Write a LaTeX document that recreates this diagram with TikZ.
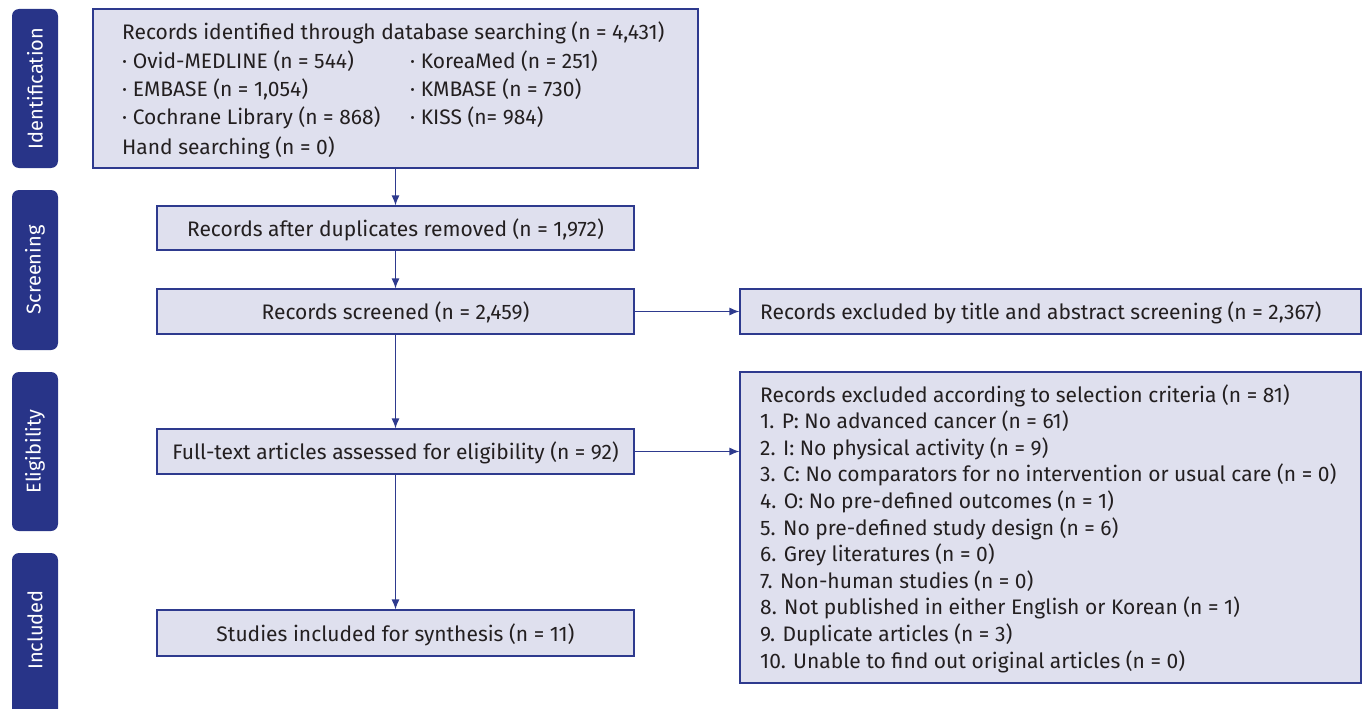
\documentclass[tikz,border=0pt]{standalone}
\usepackage{fontspec}
\setmainfont{Fira Sans}
\usetikzlibrary{arrows.meta}
\definecolor{barblue}{HTML}{283488}
\definecolor{boxfill}{HTML}{DFE0EE}
\definecolor{boxline}{HTML}{2E3A8E}
\definecolor{txtgray}{HTML}{231F20}
\tikzset{
  box/.style={draw=boxline, fill=boxfill, line width=1.2pt, inner sep=0pt},
  txt/.style={inner sep=0pt, text=txtgray, font=\fontsize{21}{25}\selectfont, text height=20pt, text depth=4pt},
  bar/.style={fill=barblue, rounded corners=7pt, inner sep=0pt},
  barlabel/.style={text=white, rotate=90, inner sep=0pt, font=\fontsize{20}{24}\selectfont},
  arr/.style={draw=boxline, line width=1.2pt, -{Latex[length=10pt,width=8pt]}}
}
\begin{document}
\begin{tikzpicture}[x=1pt, y=-1pt]
  \clip (0,0) rectangle (1362,709);
  \useasboundingbox (0,0) rectangle (1362,709);

  % stage bars
  \node[bar, minimum width=46, minimum height=159] (barid) at (35,88.5) {};
  \node[barlabel] (labid) at (barid) {Identification};
  \node[bar, minimum width=46, minimum height=160] (barsc) at (35,270) {};
  \node[barlabel] (labsc) at (barsc) {Screening};
  \node[bar, minimum width=46, minimum height=159] (barel) at (35,451.5) {};
  \node[barlabel] (label) at (barel) {Eligibility};
  \node[bar, minimum width=46, minimum height=166] (barin) at (35,636) {};
  \node[barlabel] (labin) at (35,630) {Included};

  % identification
  \node[box, minimum width=605, minimum height=159] (ident) at (395.5,88.5) {};
  \node[txt, anchor=west] (id0) at (122,32) {Records identified through database searching (n = 4,431)};
  \node[txt, anchor=west] (id1) at (122,60) {· Ovid-MEDLINE (n = 544)};
  \node[txt, anchor=west] (id2) at (122,88) {· EMBASE (n = 1,054)};
  \node[txt, anchor=west] (id3) at (122,116) {· Cochrane Library (n = 868)};
  \node[txt, anchor=west] (id4) at (122,146) {Hand searching (n = 0)};
  \node[txt, anchor=west] (id5) at (410,60) {· KoreaMed (n = 251)};
  \node[txt, anchor=west] (id6) at (410,88) {· KMBASE (n = 730)};
  \node[txt, anchor=west] (id7) at (410,116) {· KISS (n= 984)};

  % main column
  \node[box, minimum width=477, minimum height=44] (dup) at (395.5,228) {};
  \node[txt] (duptxt) at (dup) {Records after duplicates removed (n = 1,972)};
  \node[box, minimum width=477, minimum height=45] (screen) at (395.5,311.5) {};
  \node[txt] (screentxt) at (screen) {Records screened (n = 2,459)};
  \node[box, minimum width=477, minimum height=45] (full) at (395.5,451.5) {};
  \node[txt] (fulltxt) at (full) {Full-text articles assessed for eligibility (n = 92)};
  \node[box, minimum width=477, minimum height=46] (incl) at (395.5,633) {};
  \node[txt] (incltxt) at (incl) {Studies included for synthesis (n = 11)};

  % exclusions
  \node[box, minimum width=621, minimum height=45] (excla) at (1050.5,311.5) {};
  \node[txt, anchor=west] (exclatxt) at (760,311.5) {Records excluded by title and abstract screening (n = 2,367)};
  \node[box, minimum width=621, minimum height=311] (exclb) at (1050.5,527.5) {};
  \foreach \t [count=\i from 0] in {%
      Records excluded according to selection criteria (n = 81),
      1. P: No advanced cancer (n = 61),
      2. I: No physical activity (n = 9),
      3. C: No comparators for no intervention or usual care (n = 0),
      4. O: No pre-defined outcomes (n = 1),
      5. No pre-defined study design (n = 6),
      6. Grey literatures (n = 0),
      7. Non-human studies (n = 0),
      8. Not published in either English or Korean (n = 1),
      9. Duplicate articles (n = 3),
      10. Unable to find out original articles (n = 0)}
    \node[txt, anchor=west] (crit\i) at (760,394+26.6*\i) {\t};

  % arrows
  \draw[arr] (ident) -- (dup);
  \draw[arr] (dup) -- (screen);
  \draw[arr] (screen) -- (full);
  \draw[arr] (full) -- (incl);
  \draw[arr] (screen) -- (excla);
  \draw[arr] (full.east) -- (full.east -| exclb.west);
\end{tikzpicture}
\end{document}
